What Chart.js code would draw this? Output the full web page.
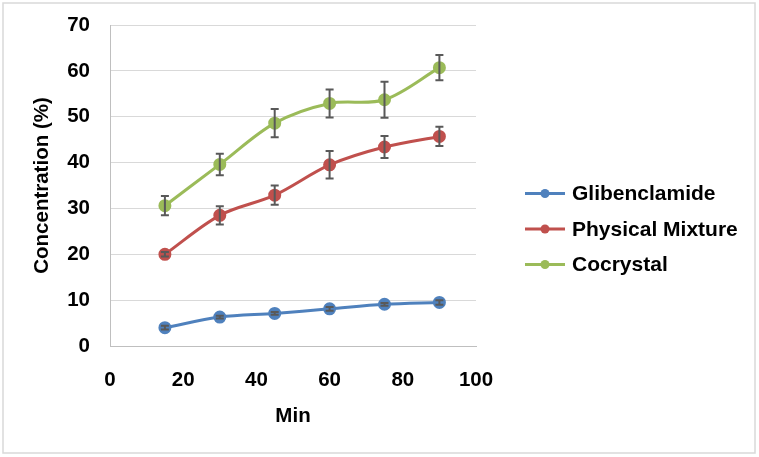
<!DOCTYPE html>
<html>
<head>
<meta charset="utf-8">
<script src="https://cdn.jsdelivr.net/npm/chart.js@4"></script>
<style>
  html, body { margin: 0; padding: 0; background: #ffffff; }
  #wrap { width: 759px; height: 457px; position: relative; }
</style>
</head>
<body>
<div id="wrap"><canvas id="c"></canvas></div>
<script>
const minutes = [15, 30, 45, 60, 75, 90];
const seriesNames = ['Glibenclamide', 'Physical Mixture', 'Cocrystal'];
const glibenclamide = [4.0, 6.3, 7.1, 8.1, 9.1, 9.5];
const glibenclamideErr = [0.4, 0.3, 0.3, 0.4, 0.3, 0.5];
const physicalMixture = [20.0, 28.5, 32.9, 39.5, 43.4, 45.7];
const physicalMixtureErr = [0.5, 2.0, 2.1, 3.0, 2.4, 2.1];
const cocrystal = [30.6, 39.6, 48.6, 52.9, 53.7, 60.7];
const cocrystalErr = [2.1, 2.35, 3.1, 3.05, 3.9, 2.75];
const seriesColors = ['#4F81BD', '#C0504D', '#9BBB59'];
const yTicks = [0, 10, 20, 30, 40, 50, 60, 70];
const xTicks = [0, 20, 40, 60, 80, 100];

const FONT = '"Liberation Sans", Arial, sans-serif';
const FSIZE = 20.5;

function toPoints(vals) { return minutes.map((m, i) => ({ x: m, y: vals[i] })); }

function makeDataset(name, vals, errs, color) {
  return {
    label: name,
    data: toPoints(vals),
    errors: errs,
    borderColor: color,
    backgroundColor: color,
    pointBackgroundColor: color,
    pointBorderColor: color,
    borderWidth: 3,
    pointRadius: 5,
    pointHoverRadius: 5,
    tension: 0.33,
    fill: false
  };
}

const frame = {
  id: 'frame',
  beforeDraw(chart) {
    const ctx = chart.ctx;
    ctx.save();
    ctx.fillStyle = '#ffffff';
    ctx.fillRect(0, 0, chart.width, chart.height);
    ctx.strokeStyle = '#d9d9d9';
    ctx.lineWidth = 1.5;
    ctx.strokeRect(3, 3, 752, 450);
    ctx.restore();
  }
};

const errorBars = {
  id: 'errorBars',
  afterDatasetsDraw(chart) {
    const ctx = chart.ctx;
    const ys = chart.scales.y;
    ctx.save();
    ctx.strokeStyle = '#595959';
    ctx.lineWidth = 2;
    chart.data.datasets.forEach((ds, di) => {
      const meta = chart.getDatasetMeta(di);
      meta.data.forEach((pt, i) => {
        const e = ds.errors[i];
        const v = ds.data[i].y;
        const top = ys.getPixelForValue(v + e);
        const bot = ys.getPixelForValue(v - e);
        const x = pt.x;
        ctx.beginPath();
        ctx.moveTo(x, top); ctx.lineTo(x, bot);
        ctx.moveTo(x - 4, top); ctx.lineTo(x + 4, top);
        ctx.moveTo(x - 4, bot); ctx.lineTo(x + 4, bot);
        ctx.stroke();
      });
    });
    ctx.restore();
  }
};

const sideLegend = {
  id: 'sideLegend',
  afterDraw(chart) {
    const ctx = chart.ctx;
    ctx.save();
    const startY = 193.5, step = 35.5;
    chart.data.datasets.forEach((ds, i) => {
      const y = startY + i * step;
      ctx.strokeStyle = ds.borderColor;
      ctx.lineWidth = 3;
      ctx.beginPath();
      ctx.moveTo(525, y); ctx.lineTo(565, y);
      ctx.stroke();
      ctx.fillStyle = ds.borderColor;
      ctx.beginPath();
      ctx.arc(545, y, 4.5, 0, Math.PI * 2);
      ctx.fill();
      ctx.fillStyle = '#000000';
      ctx.font = 'bold 21px ' + FONT;
      ctx.textAlign = 'left';
      ctx.textBaseline = 'middle';
      ctx.fillText(ds.label, 572, y + 1);
    });
    ctx.restore();
  }
};

new Chart(document.getElementById('c'), {
  type: 'line',
  data: {
    datasets: [
      makeDataset(seriesNames[0], glibenclamide, glibenclamideErr, seriesColors[0]),
      makeDataset(seriesNames[1], physicalMixture, physicalMixtureErr, seriesColors[1]),
      makeDataset(seriesNames[2], cocrystal, cocrystalErr, seriesColors[2])
    ]
  },
  options: {
    responsive: true,
    maintainAspectRatio: false,
    animation: false,
    events: [],
    layout: { padding: { left: 10, right: 283, top: 25, bottom: 28 } },
    plugins: {
      legend: { display: false },
      tooltip: { enabled: false }
    },
    scales: {
      x: {
        type: 'linear',
        min: xTicks[0],
        max: xTicks[xTicks.length - 1],
        afterBuildTicks(axis) { axis.ticks = xTicks.map(v => ({ value: v })); },
        afterFit(scale) { scale.height = 83; },
        grid: { display: false, drawTicks: false },
        border: { display: true, color: '#bfbfbf', width: 1 },
        ticks: { color: '#000', padding: 22, maxRotation: 0, font: { family: FONT, size: FSIZE, weight: 'bold' } },
        title: { display: true, text: 'Min', color: '#000', padding: { top: 15, bottom: 0 }, font: { family: FONT, size: FSIZE, weight: 'bold' } }
      },
      y: {
        min: yTicks[0],
        max: yTicks[yTicks.length - 1],
        afterBuildTicks(axis) { axis.ticks = yTicks.map(v => ({ value: v })); },
        afterFit(scale) { scale.width = 100; scale.paddingTop = 12; scale.paddingBottom = 12; },
        grid: { color: '#d9d9d9', lineWidth: 1, drawTicks: false },
        border: { display: true, color: '#bfbfbf', width: 1 },
        ticks: { color: '#000', padding: 20, font: { family: FONT, size: FSIZE, weight: 'bold' } },
        title: { display: true, text: 'Concentration (%)', color: '#000', padding: { top: 20, bottom: 10 }, font: { family: FONT, size: FSIZE, weight: 'bold' } }
      }
    }
  },
  plugins: [frame, errorBars, sideLegend]
});
</script>
</body>
</html>
